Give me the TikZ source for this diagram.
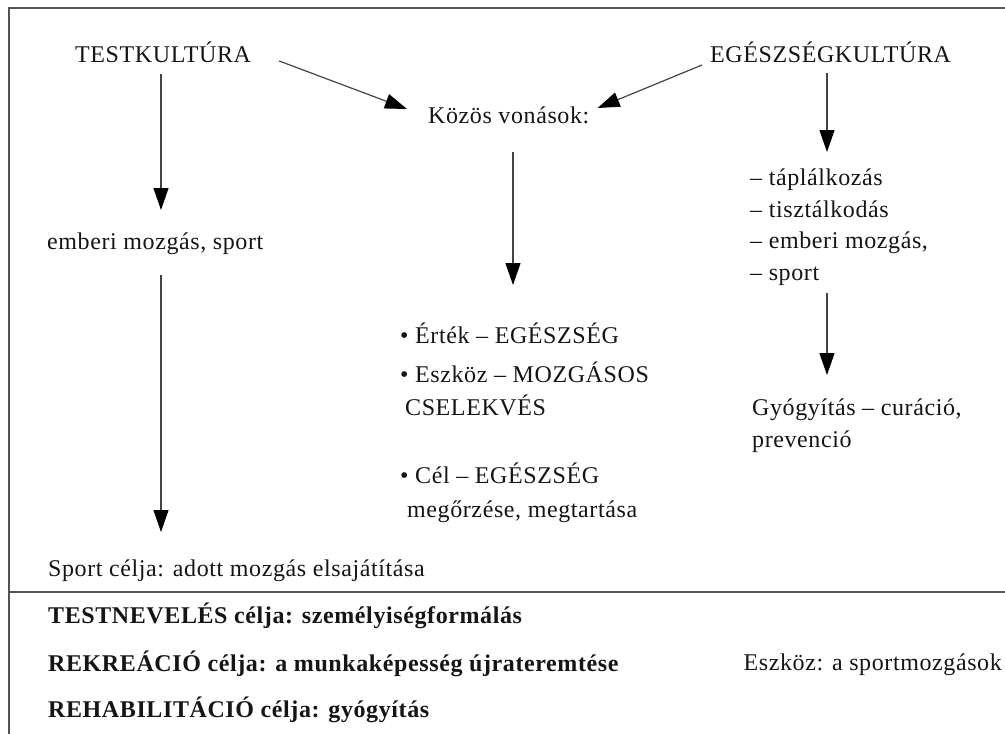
\documentclass[tikz,border=0pt]{standalone}
\usepackage{fontspec}
\setmainfont{Liberation Serif}[LetterSpace=2.5]
\usetikzlibrary{arrows.meta,calc}
\definecolor{ink}{HTML}{151515}
\definecolor{rule}{HTML}{555555}
\tikzset{
  txt/.style={inner sep=0pt, anchor=base west, text=ink, font=\fontsize{24}{28}\selectfont},
  boldtxt/.style={txt, font=\fontsize{24}{28}\selectfont\bfseries},
  arr/.style={draw=rule!80!black, line width=1.2pt,
    -{Triangle[length=22pt,width=15pt,color=black]}},
  frameline/.style={draw=rule, line width=1.6pt}
}
\begin{document}
\begin{tikzpicture}[x=1pt,y=-1pt]
\useasboundingbox (0,0) rectangle (1005,734);
\fill[white] (0,0) rectangle (1005,734);

% frame and separator
\draw[frameline] (9,734) -- (9,8) -- (1005,8);
\draw[frameline] (9,592) -- (1005,592);

% headings
\node[txt] (test) at (75,62) {TESTKULTÚRA};
\node[txt] (egk) at (710,62) {EGÉSZSÉGKULTÚRA};
\node[txt] (kozos) at (428,123) {Közös vonások:};

% left column
\node[txt] (emb) at (47,249) {emberi mozgás, sport};
\node[txt] (sportc) at (48,576) {Sport célja: adott mozgás elsajátítása};

% right column list
\node[txt] (l1) at (750,185) {– táplálkozás};
\node[txt] (l2) at (750,217) {– tisztálkodás};
\node[txt] (l3) at (750,248) {– emberi mozgás,};
\node[txt] (l4) at (750,280) {– sport};
\node[txt] (g1) at (752,415) {Gyógyítás – curáció,};
\node[txt] (g2) at (752,447) {prevenció};

% middle column
\node[txt] (b1) at (400,343) {• Érték – EGÉSZSÉG};
\node[txt] (b2) at (400,382) {• Eszköz – MOZGÁSOS};
\node[txt] (b2b) at (405,415) {CSELEKVÉS};
\node[txt] (b3) at (400,483) {• Cél – EGÉSZSÉG};
\node[txt] (b3b) at (407,517) {megőrzése, megtartása};

% lower band
\node[boldtxt] (tn) at (48,623) {TESTNEVELÉS célja: személyiségformálás};
\node[boldtxt] (rk) at (48,671) {REKREÁCIÓ célja: a munkaképesség újrateremtése};
\node[boldtxt] (rh) at (48,717) {REHABILITÁCIÓ célja: gyógyítás};
\node[txt, anchor=base east] (esz) at (1002,670) {Eszköz: a sportmozgások};

% connectors
\draw[arr] ($(test.base east)+(28,-1)$) -- ($(kozos.base west)+(-21,-14)$);
\draw[arr] ($(egk.base west)+(-8,3)$) -- ($(kozos.base east)+(8,-15)$);
\draw[arr] ($(test.base west)+(86,12)$) -- ($(emb.base west)+(114,-39)$);
\draw[arr] ($(emb.base west)+(114,26)$) -- ($(sportc.base west)+(113,-44)$);
\draw[arr] ($(kozos.base west)+(85,29)$) -- ($(b1.base west)+(113,-58)$);
\draw[arr] ($(egk.base west)+(117,11)$) -- ($(l1.base west)+(77,-33)$);
\draw[arr] ($(l4.base west)+(77,13)$) -- ($(g1.base west)+(75,-40)$);
\end{tikzpicture}
\end{document}
